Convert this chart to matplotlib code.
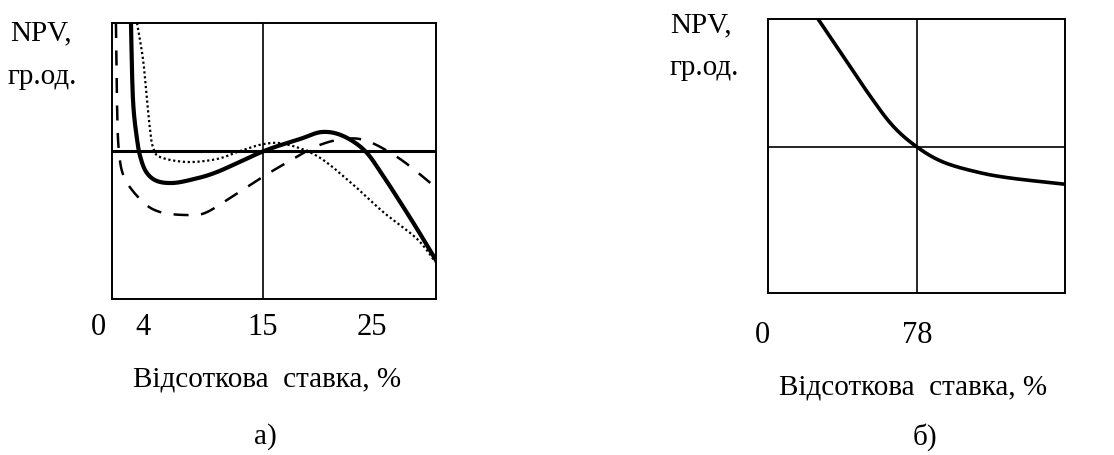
import numpy as np
import matplotlib
matplotlib.use('Agg')
import matplotlib.pyplot as plt

plt.rcParams['font.family'] = ['Liberation Serif', 'DejaVu Serif']

# ---- Panel a) : three NPV curves vs rate, % ----
solid_x = [2.94, 3.12, 3.49, 3.85, 4.40, 5.32, 6.70, 8.35, 10.83, 15.14, 18.44, 20.46, 22.39, 24.40, 26.06, 27.61, 29.17, 30.83]
solid_y = [12.8, 5.2, 1.2, -0.8, -2.2, -3.0, -3.2, -2.9, -2.1, 0.0, 1.2, 1.9, 1.5, 0.0, -2.5, -5.1, -7.8, -10.8]

dash_x = [1.56, 1.65, 1.83, 2.39, 4.04, 5.6, 7.89, 9.72, 12.29, 15.14, 17.8, 20.0, 22.39, 24.59, 27.61, 30.83]
dash_y = [12.8, 5.2, 0.0, -2.8, -5.1, -6.1, -6.4, -6.2, -4.5, -2.5, -0.8, 0.5, 1.2, 1.0, -0.8, -3.6]

dot_x = [3.49, 4.04, 4.40, 4.68, 4.95, 5.6, 8.07, 10.83, 12.94, 15.14, 17.06, 20.0, 23.03, 26.06, 29.17, 30.83]
dot_y = [12.8, 9.2, 5.2, 2.2, 0.4, -0.6, -1.1, -0.8, 0.0, 0.7, 0.7, -0.5, -3.1, -6.1, -8.8, -11.1]

ticks_a = [0, 4, 15, 25]
irr_a = 15

# ---- Panel b) : one NPV curve ----
b_x = [28.2, 40.8, 54.4, 65.9, 78.0, 91.1, 108.2, 124.8, 151.5]
b_y = [12.8, 9.1, 5.1, 2.1, 0.0, -1.5, -2.5, -3.1, -3.7]

ticks_b = [0, 78]
irr_b = 78

W, H = 1114, 456
fig = plt.figure(figsize=(W / 100, H / 100), dpi=100)

axA = fig.add_axes([112 / W, 1 - 300 / H, 324 / W, 276 / H])
axB = fig.add_axes([768 / W, 1 - 294 / H, 297 / W, 274 / H])

axA.set_xlim(1.2, 30.9)
axA.set_ylim(-14.8, 12.8)
axB.set_xlim(3, 152.5)
axB.set_ylim(-14.6, 12.8)


def smooth(ax, xs, ys):
    # Catmull-Rom through the read points, done in screen space
    pts = ax.transData.transform(np.column_stack([xs, ys]))
    P = np.vstack([pts[0], pts, pts[-1]])
    out = []
    for i in range(1, len(P) - 2):
        p0, p1, p2, p3 = P[i - 1], P[i], P[i + 1], P[i + 2]
        for s in np.linspace(0, 1, 30, endpoint=False):
            s2, s3 = s * s, s * s * s
            out.append(0.5 * ((2 * p1) + (-p0 + p2) * s + (2 * p0 - 5 * p1 + 4 * p2 - p3) * s2
                              + (-p0 + 3 * p1 - 3 * p2 + p3) * s3))
    out.append(pts[-1])
    out = ax.transData.inverted().transform(np.array(out))
    return out[:, 0], out[:, 1]


sx, sy = smooth(axA, solid_x, solid_y)
axA.plot(sx, sy, color='black', lw=3.0)
dx, dy = smooth(axA, dash_x, dash_y)
axA.plot(dx, dy, color='black', lw=1.8, dashes=(6, 5))
ox, oy = smooth(axA, dot_x, dot_y)
axA.plot(ox, oy, color='black', lw=1.6, linestyle=(0, (1, 1.2)))

axA.axhline(0, color='black', lw=2.2)
axA.axvline(irr_a, color='black', lw=1.2)

bx, by = smooth(axB, b_x, b_y)
axB.plot(bx, by, color='black', lw=2.6)
axB.axhline(0, color='black', lw=1.2)
axB.axvline(irr_b, color='black', lw=1.2)

for ax in (axA, axB):
    ax.set_xticks([])
    ax.set_yticks([])
    for sp in ax.spines.values():
        sp.set_linewidth(1.4)

fs = 21
for v in ticks_a:
    axA.text(v, -0.098, str(v), transform=axA.get_xaxis_transform(), ha='center', va='center',
             fontsize=22, clip_on=False)
for v in ticks_b:
    axB.text(v, -0.15, str(v), transform=axB.get_xaxis_transform(), ha='center', va='center',
             fontsize=22, clip_on=False)

# axis captions
fig.text(10 / W, 1 - 33 / H, 'NPV,', fontsize=fs, ha='left', va='center')
fig.text(8 / W, 1 - 77 / H, 'гр.од.', fontsize=fs, ha='left', va='center')
fig.text(670 / W, 1 - 25 / H, 'NPV,', fontsize=fs, ha='left', va='center')
fig.text(670 / W, 1 - 68 / H, 'гр.од.', fontsize=fs, ha='left', va='center')

fig.text(267 / W, 1 - 380 / H, 'Відсоткова  ставка, %', fontsize=fs, ha='center', va='center')
fig.text(913 / W, 1 - 388 / H, 'Відсоткова  ставка, %', fontsize=fs, ha='center', va='center')
fig.text(265 / W, 1 - 437 / H, 'а)', fontsize=fs, ha='center', va='center')
fig.text(925 / W, 1 - 437 / H, 'б)', fontsize=fs, ha='center', va='center')

fig.savefig('out.png', dpi=100, facecolor='white')
